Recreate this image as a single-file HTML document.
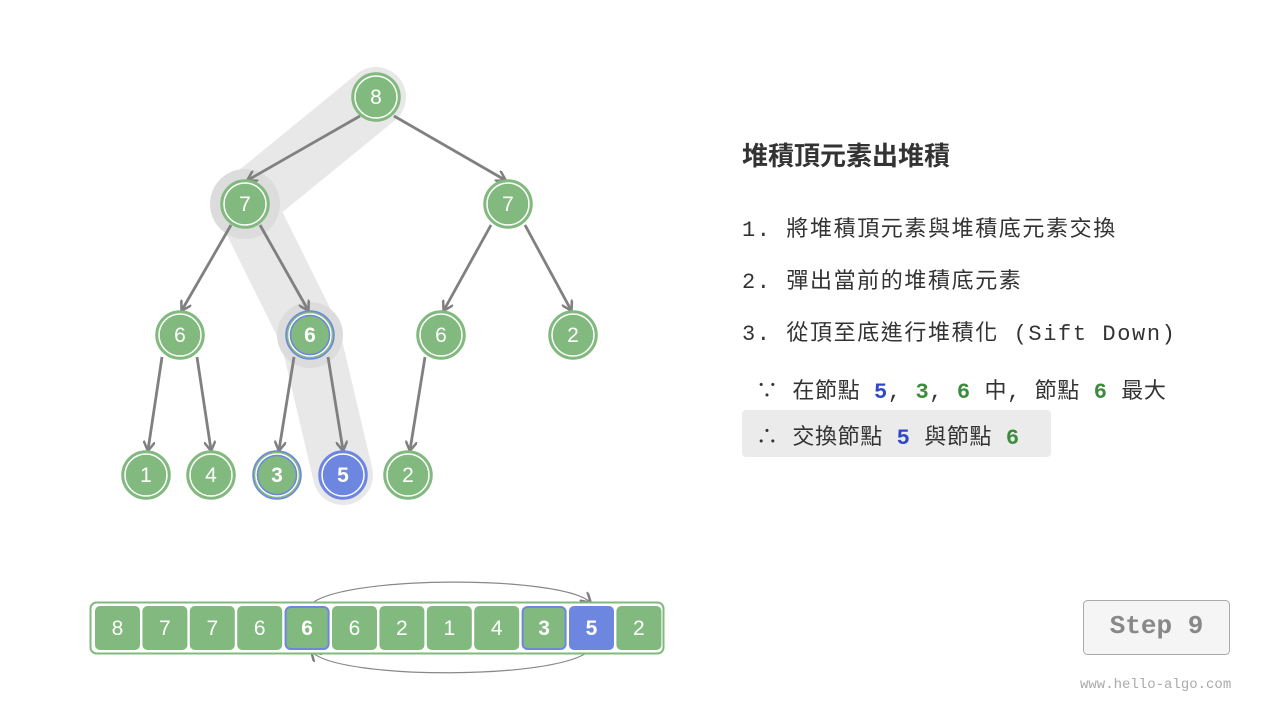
<!DOCTYPE html>
<html><head><meta charset="utf-8"><style>
body{margin:0;width:1280px;height:720px;background:#fff;overflow:hidden;position:relative;font-family:"Liberation Sans","Noto Sans CJK TC",sans-serif}
.t{position:absolute;color:#333}
.m{font-family:"Liberation Mono","Noto Sans CJK TC",monospace;letter-spacing:1.6px}
.b{color:#2f48c8;font-weight:bold}.g{color:#3d8c3d;font-weight:bold}
</style></head><body>
<svg width="1280" height="720" style="position:absolute;left:0;top:0">
<defs><marker id="a" markerWidth="12" markerHeight="12" refX="9" refY="6" orient="auto" markerUnits="userSpaceOnUse"><path d="M0,0 L10,6 L0,12" fill="none" stroke="#808080" stroke-width="2.5"/></marker></defs>
<g stroke="#e8e8e8" stroke-width="60" stroke-linecap="round" stroke-linejoin="round" fill="none"><polyline points="376,97 245,204 310,335 343,475"/></g>
<circle cx="245" cy="204" r="35" fill="#dcdcdc"/><circle cx="310" cy="335" r="33" fill="#dcdcdc"/>
<g stroke="#808080" stroke-width="2.8" marker-end="url(#a)">
<line x1="360" y1="116" x2="248" y2="180"/><line x1="394" y1="116" x2="505" y2="180"/>
<line x1="231" y1="225" x2="182" y2="310"/><line x1="260" y1="225" x2="308" y2="310"/>
<line x1="491" y1="225" x2="444" y2="310"/><line x1="525" y1="225" x2="571" y2="310"/>
<line x1="162" y1="357" x2="148" y2="450"/><line x1="197" y1="357" x2="211" y2="450"/>
<line x1="294" y1="357" x2="279" y2="450"/><line x1="328" y1="357" x2="343" y2="450"/>
<line x1="425" y1="357" x2="410" y2="450"/>
</g>
<g font-family="Liberation Sans,sans-serif" font-size="21" fill="#fff" text-anchor="middle">
<g stroke-width="1.5">
<circle cx="376" cy="97" r="24" fill="#82b97e" stroke="#82b97e"/><circle cx="376" cy="97" r="21" fill="none" stroke="#fff"/>
<circle cx="245" cy="204" r="24" fill="#82b97e" stroke="#82b97e"/><circle cx="245" cy="204" r="21" fill="none" stroke="#fff"/>
<circle cx="508" cy="204" r="24" fill="#82b97e" stroke="#82b97e"/><circle cx="508" cy="204" r="21" fill="none" stroke="#fff"/>
<circle cx="180" cy="335" r="24" fill="#82b97e" stroke="#82b97e"/><circle cx="180" cy="335" r="21" fill="none" stroke="#fff"/>
<circle cx="310" cy="335" r="24" fill="#82b97e" stroke="#6f86e0"/><circle cx="310" cy="335" r="21" fill="none" stroke="#fff"/><circle cx="310" cy="335" r="19.5" fill="none" stroke="#6f86e0"/>
<circle cx="441" cy="335" r="24" fill="#82b97e" stroke="#82b97e"/><circle cx="441" cy="335" r="21" fill="none" stroke="#fff"/>
<circle cx="573" cy="335" r="24" fill="#82b97e" stroke="#82b97e"/><circle cx="573" cy="335" r="21" fill="none" stroke="#fff"/>
<circle cx="146" cy="475" r="24" fill="#82b97e" stroke="#82b97e"/><circle cx="146" cy="475" r="21" fill="none" stroke="#fff"/>
<circle cx="211" cy="475" r="24" fill="#82b97e" stroke="#82b97e"/><circle cx="211" cy="475" r="21" fill="none" stroke="#fff"/>
<circle cx="277" cy="475" r="24" fill="#82b97e" stroke="#6f86e0"/><circle cx="277" cy="475" r="21" fill="none" stroke="#fff"/><circle cx="277" cy="475" r="19.5" fill="none" stroke="#6f86e0"/>
<circle cx="343" cy="475" r="24" fill="#6d86e0" stroke="#6d86e0"/><circle cx="343" cy="475" r="21" fill="none" stroke="#fff"/>
<circle cx="408" cy="475" r="24" fill="#82b97e" stroke="#82b97e"/><circle cx="408" cy="475" r="21" fill="none" stroke="#fff"/>
</g>
<text x="376" y="104">8</text><text x="245" y="211">7</text><text x="508" y="211">7</text>
<text x="180" y="342">6</text><text x="310" y="342" font-weight="bold">6</text><text x="441" y="342">6</text><text x="573" y="342">2</text>
<text x="146" y="482">1</text><text x="211" y="482">4</text><text x="277" y="482" font-weight="bold">3</text><text x="343" y="482" font-weight="bold">5</text><text x="408" y="482">2</text>
</g>
<path d="M310,605 C 340,575 560,575 590,602" fill="none" stroke="#888" stroke-width="1.2" marker-end="url(#a)"/>
<path d="M590,650 C 560,680 340,680 312,652" fill="none" stroke="#888" stroke-width="1.2" marker-end="url(#a)"/>
<rect x="90.5" y="602.5" width="573" height="51" rx="6" fill="#fff" stroke="#82b97e" stroke-width="2"/>
<g font-family="Liberation Sans,sans-serif" font-size="21" fill="#fff" text-anchor="middle">
<rect x="95" y="606" width="45" height="44" rx="5" fill="#82b97e"/><text x="117.5" y="635">8</text>
<rect x="142.4" y="606" width="45" height="44" rx="5" fill="#82b97e"/><text x="164.9" y="635">7</text>
<rect x="189.8" y="606" width="45" height="44" rx="5" fill="#82b97e"/><text x="212.3" y="635">7</text>
<rect x="237.2" y="606" width="45" height="44" rx="5" fill="#82b97e"/><text x="259.7" y="635">6</text>
<rect x="285.6" y="607" width="43" height="42" rx="5" fill="#82b97e" stroke="#6f86e0" stroke-width="2"/><text x="307.1" y="635" font-weight="bold">6</text>
<rect x="332" y="606" width="45" height="44" rx="5" fill="#82b97e"/><text x="354.5" y="635">6</text>
<rect x="379.4" y="606" width="45" height="44" rx="5" fill="#82b97e"/><text x="401.9" y="635">2</text>
<rect x="426.8" y="606" width="45" height="44" rx="5" fill="#82b97e"/><text x="449.3" y="635">1</text>
<rect x="474.2" y="606" width="45" height="44" rx="5" fill="#82b97e"/><text x="496.7" y="635">4</text>
<rect x="522.6" y="607" width="43" height="42" rx="5" fill="#82b97e" stroke="#6f86e0" stroke-width="2"/><text x="544.1" y="635" font-weight="bold">3</text>
<rect x="569" y="606" width="45" height="44" rx="5" fill="#6d86e0"/><text x="591.5" y="635" font-weight="bold">5</text>
<rect x="616.4" y="606" width="45" height="44" rx="5" fill="#82b97e"/><text x="638.9" y="635">2</text>
</g>
<rect x="742" y="410" width="309" height="47" rx="4" fill="#ebebeb"/>
<rect x="1083.5" y="600.5" width="146" height="54" rx="4" fill="#f5f5f5" stroke="#aaa"/>
</svg>
<div class="t" style="left:742px;top:136px;font-size:26px;font-weight:bold">堆積頂元素出堆積</div>
<div class="t m" style="left:742px;top:211px;font-size:22px">1. 將堆積頂元素與堆積底元素交換</div>
<div class="t m" style="left:742px;top:263px;font-size:22px">2. 彈出當前的堆積底元素</div>
<div class="t m" style="left:742px;top:315px;font-size:22px">3. 從頂至底進行堆積化 (Sift Down)</div>
<div class="t m" style="left:756px;top:373px;font-size:22px;letter-spacing:0.6px">∵ 在節點 <span class="b">5</span>, <span class="g">3</span>, <span class="g">6</span> 中, 節點 <span class="g">6</span> 最大</div>
<div class="t m" style="left:756px;top:419px;font-size:22px;letter-spacing:0.6px">∴ 交換節點 <span class="b">5</span> 與節點 <span class="g">6</span></div>
<div class="t m" style="left:1083px;top:611px;width:147px;text-align:center;font-size:26px;font-weight:bold;color:#888;letter-spacing:0">Step 9</div>
<div class="t m" style="left:1080px;top:677px;font-size:14px;color:#aaa;letter-spacing:0">www.hello-algo.com</div>
</body></html>
